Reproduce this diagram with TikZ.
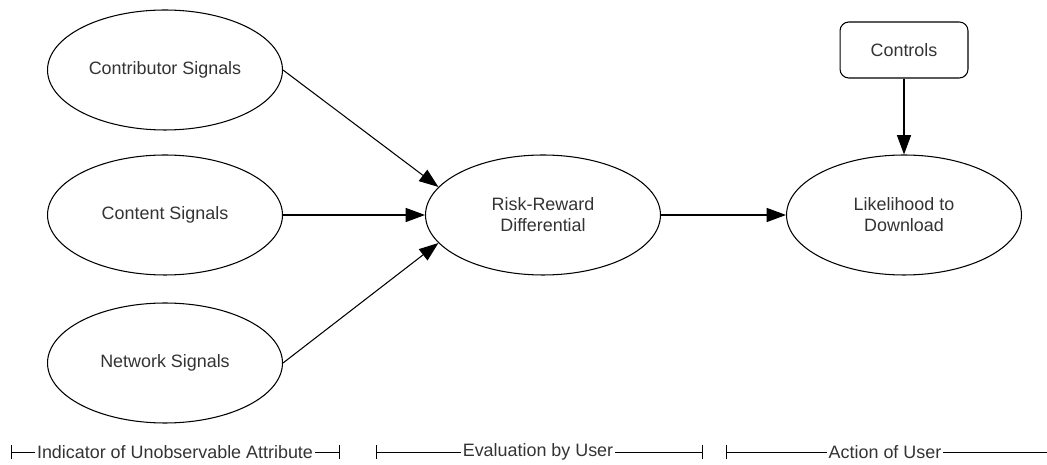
\documentclass[tikz,border=0pt]{standalone}
\usepackage{fontspec}
\setmainfont{Liberation Sans}
\usetikzlibrary{arrows.meta,shapes.geometric}
\begin{document}
\begin{tikzpicture}[x=0.02cm,y=-0.02cm,
    font=\fontsize{10.2}{12}\selectfont,
    signal/.style={draw,ellipse,line width=0.6pt,minimum width=4.7cm,minimum height=2.4cm,align=center,text=black!80},
    ctrlbox/.style={draw,rounded corners=5pt,line width=0.6pt,minimum width=2.56cm,minimum height=1.12cm,text=black!80},
    link/.style={line width=0.6pt,-{Triangle[length=11pt,width=8pt]}},
    span/.style={line width=0.5pt},
    phase/.style={inner xsep=1pt,inner ysep=0pt,text=black!80}]
      \useasboundingbox (0,0) rectangle (1047,465);

      \node[signal] (contrib) at (165,70)  {Contributor Signals};
      \node[signal] (content) at (165,215) {Content Signals};
      \node[signal] (network) at (165,363) {Network Signals};
      \node[signal] (risk)    at (543,215) {Risk-Reward\\Differential};
      \node[signal] (lik)     at (904,215) {Likelihood to\\Download};
      \node[ctrlbox] (ctrl)   at (904,50)  {Controls};

      \draw[link] (contrib.east) -- (risk.165);
      \draw[link] (content.east) -- (risk.west);
      \draw[link] (network.east) -- (risk.195);
      \draw[link] (risk.east) -- (lik.west);
      \draw[link] (ctrl.south) -- (lik.north);

      % phases along the bottom
      \node[phase] (ind)  at (175,452) {Indicator of Unobservable Attribute};
      \node[phase] (eval) at (538,452) {Evaluation by User};
      \node[phase] (act)  at (885,452) {Action of User};
      \coordinate (ind0)  at (11,452);
      \coordinate (ind1)  at (340,452);
      \coordinate (eval0) at (376,452);
      \coordinate (eval1) at (703,452);
      \coordinate (act0)  at (726,452);
      \coordinate (act1)  at (1047,452);

      \draw[span,{Bar[width=8pt]}-] (ind0) -- (ind.west);
      \draw[span,-{Bar[width=8pt]}] (ind.east) -- (ind1);
      \draw[span,{Bar[width=8pt]}-] (eval0) -- (eval.west);
      \draw[span,-{Bar[width=8pt]}] (eval.east) -- (eval1);
      \draw[span,{Bar[width=8pt]}-] (act0) -- (act.west);
      \draw[span] (act.east) -- (act1);
\end{tikzpicture}
\end{document}
